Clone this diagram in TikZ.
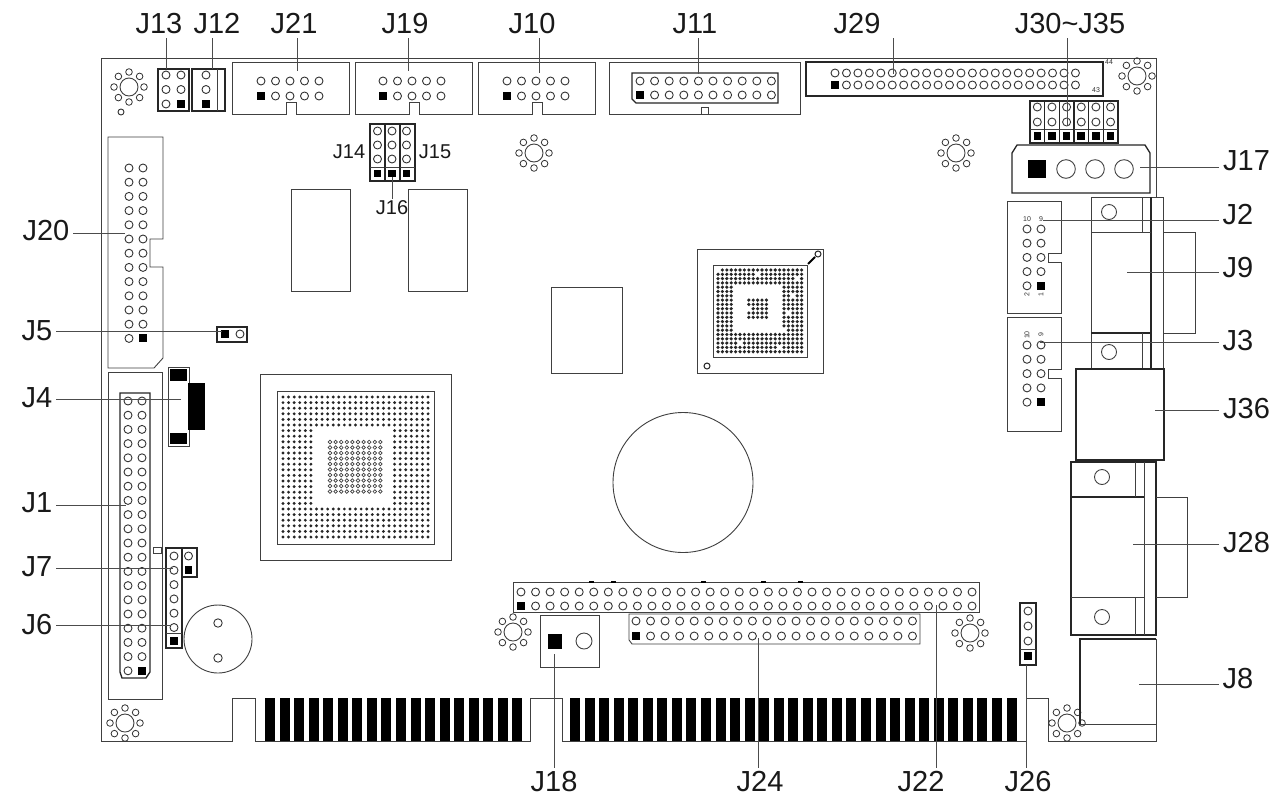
\documentclass[tikz,border=0pt]{standalone}
\usepackage{fontspec}
\setmainfont{Liberation Sans}
\tikzset{
  ol/.style={draw=black!75,line width=0.9pt,line join=miter},
  olheavy/.style={draw=black!85,line width=1.3pt},
  pinline/.style={draw=black!80,line width=0.9pt,fill=white},
  lead/.style={draw=black!70,line width=1pt},
  bigl/.style={inner sep=0pt,outer sep=4pt,font=\fontsize{29}{30}\selectfont,text=black!90},
  smalll/.style={inner sep=0pt,outer sep=2pt,font=\fontsize{20}{21}\selectfont,text=black!90},
  tiny/.style={inner sep=0pt,font=\fontsize{7}{8}\selectfont,text=black!80},
}
\newcommand{\pinc}[2]{\path[pinline] ({#1},{#2}) circle[radius=4pt];}
\newcommand{\sqp}[2]{\fill[black] ({#1-3.8},{#2-3.8}) rectangle ({#1+3.8},{#2+3.8});}
% x0 y dx n-1
\newcommand{\hpins}[4]{\foreach \i in {0,...,#4}{\path[pinline] ({#1+\i*#3},{#2}) circle[radius=4pt];}}
% x y0 dy n-1
\newcommand{\vpins}[4]{\foreach \k in {0,...,#4}{\path[pinline] ({#1},{#2+\k*#3}) circle[radius=4pt];}}
\newcommand{\mounthole}[2]{%
  \draw[ol] (#1,#2) circle[radius=9pt];
  \foreach \a in {0,45,...,315}{\draw[draw=black!80,line width=.8pt] (#1,#2) ++(\a:15pt) circle[radius=3.3pt];}}
\begin{document}
\begin{tikzpicture}[x=1pt,y=-1pt]
\useasboundingbox (0,0) rectangle (1281,801);
\fill[white] (0,0) rectangle (1281,801);
% board outline
\draw[ol] (1156,197)--(1156,58)--(101,58)--(101,741)--(232,741)--(232,698)--(255,698)--(255,741)--(530,741)--(530,698)--(562,698)--(562,741)--(1026,741)--(1026,698)--(1048,698)--(1048,741)--(1156,741)--(1156,724);
% gold fingers
\foreach \i in {0,...,17}{\fill[black] ({265+\i*14.55},698) rectangle ({275+\i*14.55},741);}
\foreach \i in {0,...,30}{\fill[black] ({570+\i*14.55},698) rectangle ({580+\i*14.55},741);}
% mounting holes
\mounthole{129}{87}\mounthole{534}{153}\mounthole{956}{153}\mounthole{1137}{76}
\mounthole{125}{723}\mounthole{513}{632}\mounthole{970}{633}\mounthole{1067}{723}
\path[pinline] (121,112) circle[radius=3pt];
% J13 J12
\draw[olheavy] (158,69) rectangle (189,111);
\hpins{166}{75}{15}{1}\hpins{166}{89.5}{15}{1}\pinc{166}{104}\sqp{181}{104}
\draw[olheavy] (192,69) rectangle (225,111);\draw[ol] (217,69)--(217,111);
\vpins{206}{75}{14.5}{1}\sqp{206}{104}
% box headers J21 J19 J10
\foreach \xa/\n in {232/261,355/383,478/507}{
  \draw[ol] (\xa,62) -- ({\xa+117},62) -- ({\xa+117},114) -- ({\xa+64},114) -- ({\xa+64},102) -- ({\xa+54},102) -- ({\xa+54},114) -- (\xa,114) -- cycle;
  \hpins{\n}{81}{14.5}{4}\hpins{\n+14.5}{96}{14.5}{3}\sqp{\n}{96}}
% J11
\draw[ol] (609,62) rectangle (800,114);
\draw[ol] (701,114)--(701,107)--(708,107)--(708,114);
\draw[olheavy] (632,73) -- (778,73) -- (778,103) -- (636,103) -- (632,99) -- cycle;
\hpins{640}{81}{14.6}{9}\hpins{654.6}{95}{14.6}{8}\sqp{640}{95}
% J29
\draw[olheavy] (806,62) rectangle (1103,96);
\hpins{835}{73}{11.45}{21}\hpins{846.45}{85}{11.45}{20}
\fill[black] (831,81) rectangle (838.5,88.5);
\node[tiny] (t44) at (1109,62) {44};
\node[tiny] (t43) at (1096,90) {43};
% J30-J35
\foreach \m in {0,...,5}{
  \draw[olheavy] ({1030+\m*14.65},101) rectangle ({1044.65+\m*14.65},143);
  \draw[ol] ({1030+\m*14.65},129) -- ({1044.65+\m*14.65},129);
  \pinc{1037.3+\m*14.65}{107}\pinc{1037.3+\m*14.65}{122}\sqp{1037.3+\m*14.65}{136}}
% J17
\draw[olheavy] (1012,193) -- (1012,153) -- (1017,145) -- (1145,145) -- (1150,153) -- (1150,193) -- cycle;
\fill[black] (1028,160) rectangle (1046,178);
\foreach \x in {1066,1095,1124}{\draw[ol] (\x,169) circle[radius=9.3pt];}
% J14 J16 J15
\foreach \m in {0,1,2}{
  \draw[olheavy] ({370+\m*15},124) rectangle ({385+\m*15},181);
  \draw[ol] ({370+\m*15},167) -- ({385+\m*15},167);
  \vpins{377.5+\m*14.5}{131}{14}{2}\sqp{377.5+\m*14.5}{173.5}}
% plain chips
\draw[ol] (291,189) rectangle (350,291);
\draw[ol] (408,189) rectangle (467,291);
\draw[ol] (551,287) rectangle (622,373);
% J20
\draw[ol] (108,137) -- (163,137) -- (163,239) -- (150,239) -- (150,267) -- (163,267) -- (163,358) -- (154,368) -- (108,368) -- cycle;
\vpins{129}{168}{14.2}{12}\vpins{143}{168}{14.2}{11}\sqp{143}{338}
% J5
\draw[olheavy] (217,327) rectangle (247,342);
\sqp{225}{334}\pinc{240}{334}
% J1
\draw[ol] (108,372) rectangle (162,699);
\draw[olheavy] (120,393) -- (150,393) -- (150,672) -- (146,678) -- (122,678) -- (120,672) -- cycle;
\vpins{128}{401}{14.2}{19}\vpins{142}{401}{14.2}{18}\sqp{142}{671}
\draw[ol] (153,547) rectangle (161,553);
% J4
\draw[ol] (168,367) rectangle (189,446);
\fill[black] (170,369) rectangle (187,381);
\fill[black] (170,433) rectangle (187,444);
\fill[black] (188,383) rectangle (205,430);
% J7 J6
\draw[olheavy] (182,548) rectangle (197,577);
\pinc{188.5}{556}\sqp{188.5}{570}
\draw[olheavy] (166,548) -- (182,548) -- (182,648) -- (166,648) -- cycle;
\draw[ol] (166,633) -- (182,633);
\vpins{174}{556}{14.3}{5}\sqp{174}{641}
% buzzer
\draw[ol] (218,639) circle[radius=34pt];
\path[pinline] (218,623) circle[radius=4.2pt];
\path[pinline] (218,658) circle[radius=4.2pt];
% big BGA
\draw[ol] (260,374) rectangle (451,560);
\draw[ol] (277,391) rectangle (434,544);
\foreach \i in {0,...,26}{\foreach \j in {0,...,25}{
  \pgfmathtruncatemacro{\skipit}{(\i>5 && \i<20 && \j>5 && \j<20) ? 1 : 0}
  \ifnum\skipit=0 \fill[black!85] ({283+\i*5.58},{397+\j*5.6}) circle[radius=1.6pt];\fi}}
\foreach \i in {0,...,9}{\foreach \j in {0,...,9}{
  \draw[black!75,line width=.7pt] ({330+\i*5.6},{442+\j*5.5}) circle[radius=1.8pt];}}
% small BGA
\draw[ol] (697,249) rectangle (823,373);
\draw[ol] (713,265) rectangle (807,357);
\foreach \i in {0,...,19}{\foreach \j in {0,...,19}{
  \pgfmathtruncatemacro{\skipit}{(((\i>3 && \i<15 && \j>3 && \j<15) && !(\i>6 && \i<12 && \j>6 && \j<12)) || (mod(\i*7+\j*11,37)==0)) ? 1 : 0}
  \ifnum\skipit=0 \fill[black!85] ({718+\i*4.4},{270+\j*4.3}) circle[radius=1.8pt];\fi}}
\draw[black!85,line width=1pt] (707,366) circle[radius=3pt];
\draw[black!85,line width=1pt] (818,254) circle[radius=3pt];
\draw[black,line width=2pt] (808,264) -- (815,257);
% large circle
\draw[ol] (683,482.5) circle[radius=70pt];
% J2
\draw[ol] (1007,201) -- (1061,201) -- (1061,253) -- (1048,253) -- (1048,262) -- (1061,262) -- (1061,313) -- (1007,313) -- cycle;
\vpins{1027}{229}{14.2}{4}\vpins{1041}{229}{14.2}{3}\sqp{1041}{286}
\node[tiny] (t10a) at (1027,219) {10};
\node[tiny] (t9a) at (1041,219) {9};
\node[tiny,rotate=90] (t2a) at (1027,295) {2};
\node[tiny,rotate=90] (t1a) at (1041,295) {1};
% J3
\draw[ol] (1007,317) -- (1061,317) -- (1061,369) -- (1048,369) -- (1048,378) -- (1061,378) -- (1061,431) -- (1007,431) -- cycle;
\vpins{1027}{345}{14.3}{4}\vpins{1041}{345}{14.3}{3}\sqp{1041}{402}
\node[tiny,rotate=90] (t10b) at (1027,335) {10};
\node[tiny,rotate=90] (t9b) at (1041,335) {9};
% J9
\draw[ol] (1091,369) -- (1091,197) -- (1163,197) -- (1163,369);
\draw[olheavy] (1151,197) -- (1151,369);
\draw[ol] (1091,232) -- (1151,232);
\draw[olheavy] (1091,333) -- (1151,333);
\draw[ol] (1142,197) -- (1142,232);
\draw[ol] (1142,333) -- (1142,369);
\draw[ol] (1163,232) -- (1195,232) -- (1195,333) -- (1163,333);
\draw[ol] (1109,212) circle[radius=7.5pt];
\draw[ol] (1109,352) circle[radius=7.5pt];
% J36
\draw[olheavy] (1076,369) rectangle (1164,460);
% J28
\draw[olheavy] (1071,635) -- (1071,462) -- (1156,462) -- (1156,635) -- cycle;
\draw[olheavy] (1071,497) -- (1144,497);
\draw[ol] (1071,597) -- (1144,597);
\draw[ol] (1135,462) -- (1135,497);
\draw[ol] (1135,597) -- (1135,635);
\draw[ol] (1144,462) -- (1144,635);
\draw[ol] (1156,497) -- (1187,497) -- (1187,597) -- (1156,597);
\draw[ol] (1102,477) circle[radius=7.5pt];
\draw[ol] (1102,617) circle[radius=7.5pt];
% J8
\draw[olheavy] (1080,724) -- (1080,639) -- (1156,639);
\draw[ol] (1156,639) -- (1156,724) -- (1080,724);
% J22
\draw[ol] (513,582) rectangle (979,612);
\hpins{521}{592}{14.55}{31}\hpins{535.55}{606}{14.55}{30}\sqp{521}{606}
\foreach \x in {589,611,701,761,798}{\fill[black] (\x,581) rectangle ({\x+5},583);}
% J24
\draw[ol] (629,614) -- (920,614) -- (920,644) -- (632,644) -- (629,640) -- cycle;
\hpins{636}{621}{14.55}{19}\hpins{650.55}{636}{14.55}{18}\sqp{636}{636}
% J18
\draw[ol] (540,615) rectangle (599,667);
\fill[black] (548,634) rectangle (562,649);
\draw[ol] (584,641) circle[radius=8pt];
% J26
\draw[olheavy] (1020,603) rectangle (1036,665);
\draw[ol] (1020,649) -- (1036,649);
\vpins{1028}{611}{15}{2}\sqp{1028}{656}
% labels
\node[bigl] (lJ13) at (159,24) {J13};
\node[bigl] (lJ12) at (217,24) {J12};
\node[bigl] (lJ21) at (294,24) {J21};
\node[bigl] (lJ19) at (405,24) {J19};
\node[bigl] (lJ10) at (532,24) {J10};
\node[bigl] (lJ11) at (695,24) {J11};
\node[bigl] (lJ29) at (857,24) {J29};
\node[bigl] (lJ30) at (1070,24) {J30\char`\~J35};
\node[bigl] (lJ17) at (1246.5,161) {J17};
\node[bigl] (lJ2)  at (1238,215) {J2};
\node[bigl] (lJ9)  at (1238,268) {J9};
\node[bigl] (lJ3)  at (1238,341) {J3};
\node[bigl] (lJ36) at (1246.5,409) {J36};
\node[bigl] (lJ28) at (1246.5,543) {J28};
\node[bigl] (lJ8)  at (1238,679) {J8};
\node[bigl] (lJ20) at (46,231) {J20};
\node[bigl] (lJ5)  at (37,331) {J5};
\node[bigl] (lJ4)  at (37,398) {J4};
\node[bigl] (lJ1)  at (37,503) {J1};
\node[bigl] (lJ7)  at (37,567) {J7};
\node[bigl] (lJ6)  at (37,625) {J6};
\node[bigl] (lJ18) at (554,782) {J18};
\node[bigl] (lJ24) at (760,782) {J24};
\node[bigl] (lJ22) at (921,782) {J22};
\node[bigl] (lJ26) at (1028,782) {J26};
\node[smalll] (lJ14) at (349,152) {J14};
\node[smalll] (lJ15) at (435,152) {J15};
\node[smalll] (lJ16) at (392,208) {J16};
% connector ends
\coordinate (pJ13) at (166,69);
\coordinate (pJ12) at (212,69);
\coordinate (pJ21) at (297,71);
\coordinate (pJ19) at (408,71);
\coordinate (pJ10) at (539,73);
\coordinate (pJ11) at (698,74);
\coordinate (pJ29) at (893,74);
\coordinate (pJ30) at (1067,125);
\coordinate (pJ17) at (1140,167);
\coordinate (pJ2) at (1043,220);
\coordinate (pJ9) at (1127,272);
\coordinate (pJ3) at (1040,342);
\coordinate (pJ36) at (1155,410);
\coordinate (pJ28) at (1133,544);
\coordinate (pJ8) at (1139,684);
\coordinate (pJ20) at (125,233);
\coordinate (pJ5) at (222,331);
\coordinate (pJ4) at (181,399);
\coordinate (pJ1) at (126,505);
\coordinate (pJ7) at (173,568);
\coordinate (pJ6) at (171,625);
\coordinate (pJ18) at (554,654);
\coordinate (pJ24) at (758,638);
\coordinate (pJ22) at (936,605);
\coordinate (pJ26) at (1026,665);
\coordinate (pJ16) at (392,177);
% connectors
\foreach \n in {J13,J12,J21,J19,J10,J11,J29,J30}{\draw[lead] (l\n.south -| p\n) -- (p\n);}
\foreach \n in {J17,J2,J9,J3,J36,J28,J8}{\draw[lead] (l\n.west |- p\n) -- (p\n);}
\foreach \n in {J20,J5,J4,J1,J7,J6}{\draw[lead] (l\n.east |- p\n) -- (p\n);}
\foreach \n in {J18,J24,J22,J26}{\draw[lead] (l\n.north -| p\n) -- (p\n);}
\draw[lead] (lJ16.north) -- (pJ16);
\end{tikzpicture}
\end{document}
